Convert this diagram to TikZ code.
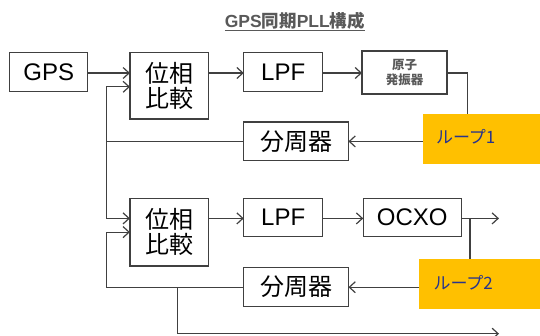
\documentclass[tikz,border=0pt]{standalone}
\usepackage{fontspec}
\setmainfont{Liberation Sans}
\newfontfamily\cjk{Noto Sans CJK JP}
\usetikzlibrary{arrows.meta}
\definecolor{ln}{RGB}{64,64,64}
\definecolor{ttl}{RGB}{89,89,89}
\definecolor{ylw}{RGB}{255,192,0}
\definecolor{lbl}{RGB}{40,52,140}
\begin{document}
\begin{tikzpicture}[x=1pt,y=-1pt,
  blk/.style={draw=ln,line width=1.2pt,fill=white,inner sep=0pt,outer sep=0pt,align=center,font=\fontsize{24}{25}\selectfont},
  conn/.style={draw=ln,line width=1.2pt},
  arr/.style={conn,-{Straight Barb[length=6pt,width=11pt,line width=1.2pt]}},
  loopbox/.style={fill=ylw,inner sep=0pt,outer sep=0pt,text=lbl,font=\cjk\fontsize{17}{19}\selectfont}]
\useasboundingbox (0,0) rectangle (540,335);
% title
\node[font=\bfseries\fontsize{17.5}{20}\selectfont,text=ttl] (title) at (294.8,21.5) {\underline{GPS{\cjk 同期}PLL{\cjk 構成}}};
% loop 1
\node[blk,minimum width=78pt,minimum height=38.6pt] (gps) at (48.7,72) {GPS};
\node[blk,minimum width=78.7pt,minimum height=66.3pt] (pc1) at (169.3,85.8) {\cjk 位相\\\cjk 比較};
\node[blk,minimum width=78.9pt,minimum height=38.6pt] (lpf1) at (283.2,72) {LPF};
\node[blk,minimum width=85pt,minimum height=43pt,text=ttl,font=\cjk\bfseries\fontsize{12.5}{14.5}\selectfont] (osc1) at (404.5,72.5) {原子\\発振器};
\node[blk,minimum width=104.7pt,minimum height=38.8pt] (div1) at (296.1,141.4) {\cjk 分周器};
% loop 2
\node[blk,minimum width=78.7pt,minimum height=67.2pt] (pc2) at (169.3,232.3) {\cjk 位相\\\cjk 比較};
\node[blk,minimum width=78.9pt,minimum height=37.9pt] (lpf2) at (283.2,217.6) {LPF};
\node[blk,minimum width=98.1pt,minimum height=37.9pt] (ocxo) at (412.3,217.6) {OCXO};
\node[blk,minimum width=104.7pt,minimum height=38.6pt] (div2) at (296.1,286.9) {\cjk 分周器};
% coordinates
\coordinate (fbA) at (106.7,141.4);
\coordinate (fbB) at (106.7,287.2);
\coordinate (r1) at (467.3,118);
\coordinate (r2) at (470,262);
\coordinate (out1) at (499,218.4);
\coordinate (bj) at (177.3,287.2);
\coordinate (bc) at (177.3,333.7);
\coordinate (out2) at (499,333.7);
% connectors
\draw[arr] (gps.east |- 0,73) -- (pc1.west |- 0,73);
\draw[arr] (pc1.east |- 0,73) -- (lpf1.west |- 0,73);
\draw[arr] (lpf1.east |- 0,73) -- (osc1.west |- 0,73);
\draw[conn] (osc1.east |- 0,73) -| (r1);
\draw[arr] (div1.west |- fbA) -- (fbA) -- (fbA |- 0,86.8) -- (pc1.west |- 0,86.8);
\draw[arr] (fbA) -- (fbA |- 0,218.4) -- (pc2.west |- 0,218.4);
\draw[arr] (pc2.east |- 0,218.4) -- (lpf2.west |- 0,218.4);
\draw[arr] (lpf2.east |- 0,218.4) -- (ocxo.west |- 0,218.4);
\draw[arr] (ocxo.east |- out1) -- (out1);
\draw[conn] (r2 |- out1) -- (r2);
\draw[arr] (div2.west |- fbB) -- (fbB) -- (fbB |- 0,232.1) -- (pc2.west |- 0,232.1);
\draw[arr] (bj) -- (bc) -- (out2);
% loop labels
\node[loopbox,minimum width=117pt,minimum height=50.4pt] (loop1) at (481.5,138.8) {};
\node[loopbox,minimum width=121pt,minimum height=50.3pt] (loop2) at (479.5,283.8) {};
\node[loopbox,fill=none,anchor=west] (l1t) at (436,137) {ループ1};
\node[loopbox,fill=none,anchor=west] (l2t) at (433.5,283) {ループ2};
\draw[arr] (loop1.west |- div1.east) -- (div1.east);
\draw[arr] (loop2.west |- fbB) -- (div2.east |- fbB);
\end{tikzpicture}
\end{document}
